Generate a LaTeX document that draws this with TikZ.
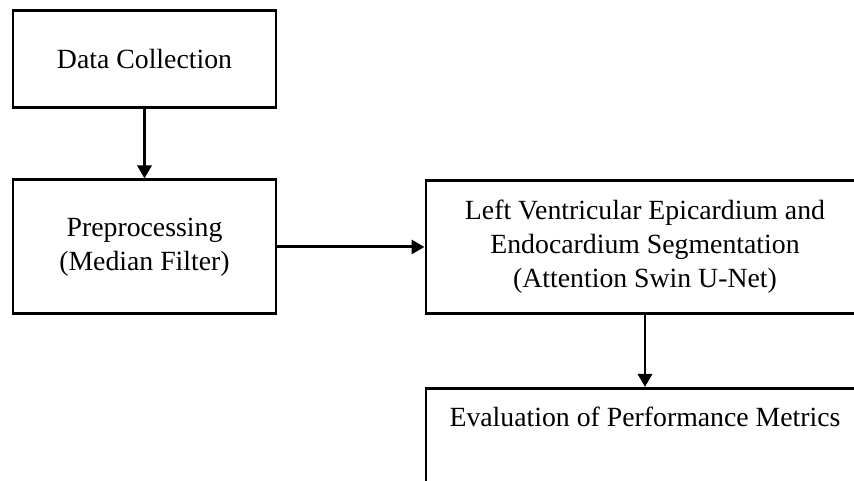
\documentclass[tikz,border=0pt]{standalone}
\usepackage{fontspec}
\setmainfont{Liberation Serif}
\usetikzlibrary{arrows.meta}

\tikzset{
  stagebox/.style={draw=black,line width=1.7pt,align=center,inner sep=0pt,
    font=\fontsize{15.8}{19.3}\selectfont},
  flowarrow/.style={line width=1.7pt,-{Triangle[length=0.26cm,width=0.28cm]}}
}

\begin{document}
\begin{tikzpicture}[x=1cm,y=1cm]
\clip (0,0) rectangle (17.08,9.62);
\fill[white] (0,0) rectangle (17.08,9.62);
% left column
\node[stagebox,minimum width=5.26cm,minimum height=1.94cm] (collect) at (2.89,8.43) {Data Collection};
\node[stagebox,minimum width=5.26cm,minimum height=2.68cm] (prep) at (2.89,4.68) {Preprocessing\\(Median Filter)};
% right column, cut by the page edge
\node[stagebox,minimum width=8.76cm,minimum height=2.66cm] (seg) at (12.90,4.68) {Left Ventricular Epicardium and\\Endocardium Segmentation\\(Attention Swin U-Net)};
\node[stagebox,anchor=north,minimum width=8.76cm,text height=0.76cm,text depth=2cm] (eval) at (12.90,1.88) {Evaluation of Performance Metrics};
% connectors
\draw[flowarrow] (collect.south) -- (prep.north);
\draw[flowarrow] (prep.east) -- (seg.west);
\draw[flowarrow] (seg.south) -- (eval.north);
\end{tikzpicture}
\end{document}
